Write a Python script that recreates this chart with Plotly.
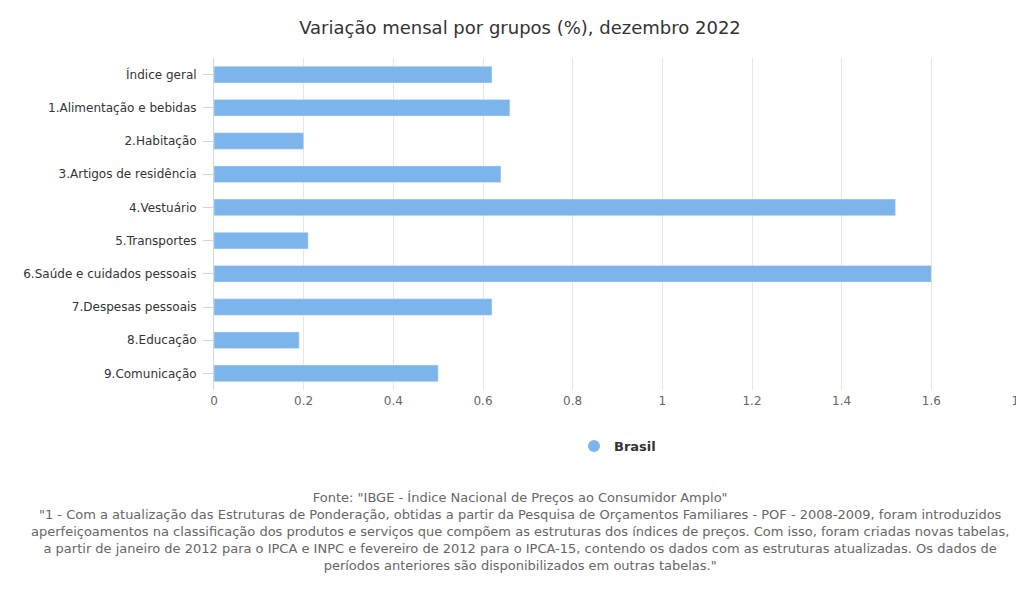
import plotly.graph_objects as go

categories = ["Índice geral","1.Alimentação e bebidas","2.Habitação","3.Artigos de residência","4.Vestuário","5.Transportes","6.Saúde e cuidados pessoais","7.Despesas pessoais","8.Educação","9.Comunicação"]
values = [0.62,0.66,0.20,0.64,1.52,0.21,1.60,0.62,0.19,0.50]
x_ticks = [0,0.2,0.4,0.6,0.8,1,1.2,1.4,1.6,1.8]

F = "DejaVu Sans"
fig = go.Figure(go.Bar(y=categories, x=values, orientation="h", marker_color="#7cb5ec",
                       width=0.5, name="Brasil", showlegend=False))
fig.add_trace(go.Scatter(x=[None], y=[None], mode="markers", marker=dict(color="#7cb5ec", size=12),
                         name="Brasil", showlegend=True))
fig.update_layout(
    width=1024, height=601, plot_bgcolor="white", paper_bgcolor="white",
    margin=dict(l=206, r=11, t=50, b=219, autoexpand=False),
    font=dict(family=F, color="#666666", size=12),
    title=dict(text="Variação mensal por grupos (%), dezembro 2022", x=0.5, xanchor="center",
               y=1-20/601, yanchor="middle", yref="container",
               font=dict(size=18, color="#333333", family=F)),
    xaxis=dict(range=[0,1.8], tickvals=x_ticks, ticktext=[str(v) for v in x_ticks], showgrid=True,
               gridcolor="#e6e6e6", zeroline=False, ticks="", ticklabelstandoff=2, automargin=False),
    yaxis=dict(categoryorder="array", categoryarray=categories[::-1], range=[-0.5, 9.5],
               showline=True, linecolor="#ccd6eb", ticks="outside", tickcolor="#ccd6eb", ticklen=10,
               showgrid=False, ticklabelstandoff=4, tickfont=dict(color="#333333"), automargin=False),
    legend=dict(orientation="h", x=0.5, xanchor="center", y=-(438-382)/332, yanchor="middle",
                font=dict(size=13, color="#333333", weight="bold")),
)
note = ('Fonte: "IBGE - Índice Nacional de Preços ao Consumidor Amplo"<br>'
        '"1 - Com a atualização das Estruturas de Ponderação, obtidas a partir da Pesquisa de Orçamentos Familiares - POF - 2008-2009, foram introduzidos<br>'
        'aperfeiçoamentos na classificação dos produtos e serviços que compõem as estruturas dos índices de preços. Com isso, foram criadas novas tabelas,<br>'
        'a partir de janeiro de 2012 para o IPCA e INPC e fevereiro de 2012 para o IPCA-15, contendo os dados com as estruturas atualizadas. Os dados de<br>'
        'períodos anteriores são disponibilizados em outras tabelas."')
fig.add_annotation(text=note, xref="paper", yref="paper", x=(512-206)/807, y=-(480-382)/332,
                   yanchor="top", xanchor="center", showarrow=False, align="center",
                   font=dict(size=13, color="#666666", family=F))
fig.write_html("out.html")
